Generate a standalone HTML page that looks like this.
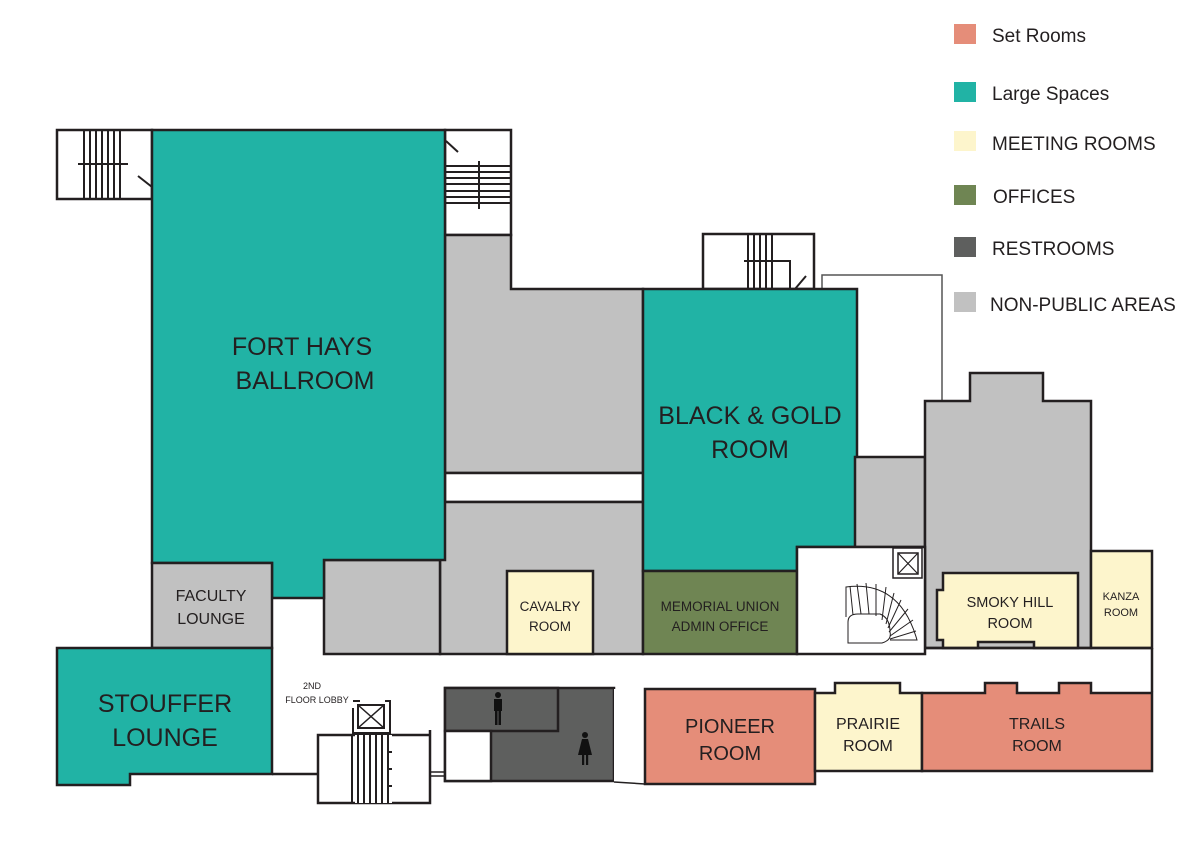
<!DOCTYPE html>
<html><head><meta charset="utf-8"><style>
html,body{margin:0;padding:0;background:#fff;}
svg{display:block;}
text{font-family:"Liberation Sans",sans-serif;fill:#231f20;}
</style></head><body>
<svg width="1192" height="851" viewBox="0 0 1192 851" xmlns="http://www.w3.org/2000/svg">
<g stroke="#231f20" stroke-width="2.5" stroke-linejoin="miter">
<!-- left stair -->
<rect x="57" y="130" width="95" height="69" fill="#fff"/>
<g stroke-width="2">
<line x1="84" y1="130" x2="84" y2="199"/><line x1="90" y1="130" x2="90" y2="199"/><line x1="96" y1="130" x2="96" y2="199"/><line x1="102" y1="130" x2="102" y2="199"/><line x1="108" y1="130" x2="108" y2="199"/><line x1="114" y1="130" x2="114" y2="199"/><line x1="120" y1="130" x2="120" y2="199"/>
<line x1="78" y1="164" x2="128" y2="164"/>
<line x1="138" y1="176" x2="152" y2="187"/>
</g>
<!-- right stair near ballroom -->
<rect x="445" y="130" width="66" height="105" fill="#fff"/>
<g stroke-width="2">
<line x1="445" y1="166" x2="512" y2="166"/><line x1="445" y1="172" x2="512" y2="172"/><line x1="445" y1="178" x2="512" y2="178"/><line x1="445" y1="184" x2="512" y2="184"/><line x1="445" y1="191" x2="512" y2="191"/><line x1="445" y1="197" x2="512" y2="197"/><line x1="445" y1="203" x2="512" y2="203"/>
<line x1="479" y1="161" x2="479" y2="209"/>
<line x1="446" y1="141" x2="458" y2="152"/>
</g>
<!-- gray blocks -->
<polygon points="445,235 511,235 511,289 643,289 643,473 445,473" fill="#c1c1c1"/>
<rect x="445" y="473" width="198" height="29" fill="#fff"/>
<rect x="440" y="502" width="203" height="152" fill="#c1c1c1"/>
<rect x="324" y="560" width="116" height="94" fill="#c1c1c1"/>
<!-- ballroom -->
<polygon points="152,130 445,130 445,560 324,560 324,598 272,598 272,563 152,563" fill="#21b3a5"/>
<rect x="152" y="563" width="120" height="85" fill="#c1c1c1"/>
<!-- cavalry -->
<rect x="507" y="571" width="86" height="83" fill="#fdf5cc"/>
<!-- stair above B&G -->
<rect x="703" y="234" width="111" height="55" fill="#fff"/>
<g stroke-width="2">
<line x1="748" y1="234" x2="748" y2="289"/><line x1="754" y1="234" x2="754" y2="289"/><line x1="760" y1="234" x2="760" y2="289"/><line x1="766" y1="234" x2="766" y2="289"/><line x1="772" y1="234" x2="772" y2="289"/>
<polyline points="744,261 790,261 790,289" fill="none"/>
<line x1="795" y1="289" x2="806" y2="276"/>
</g>
<polyline points="822,289 822,275 942,275 942,401" fill="none" stroke-width="1.5" stroke="#555"/>
<!-- B&G -->
<polygon points="643,289 857,289 857,547 797,547 797,571 643,571" fill="#21b3a5"/>
<rect x="643" y="571" width="154" height="83" fill="#6f8553"/>
<rect x="855" y="457" width="70" height="90" fill="#c1c1c1"/>
<polygon points="925,401 970,401 970,373 1043,373 1043,401 1091,401 1091,648 925,648" fill="#c1c1c1"/>
<!-- elevator/spiral area -->
<rect x="797" y="547" width="128" height="107" fill="#fff"/>
<rect x="893" y="548" width="29" height="30" fill="#fff" stroke-width="1.5"/>
<rect x="898" y="553" width="20" height="21" fill="#fff" stroke-width="1.5"/>
<path d="M898 553 L918 574 M918 553 L898 574" stroke-width="1.2"/>
<g stroke-width="1" fill="none">
<path d="M848 643 L848 622 Q848 614 858 614 L880 614 Q890 618 890 632 Q892 640 882 643 Z" fill="#fff"/>
<path d="M846 617 L846 587 Q900 580 917 640 L890 640"/>
<path d="M853 615 L850 586 M861 614 L857 584 M869 614 L866 583 M876 616 L876 584 M882 620 L886 587 M886 624 L894 593 M888 628 L901 600 M889 632 L908 609 M890 636 L913 620 M890 639 L916 631"/>
</g>
<!-- smoky hill -->
<polygon points="943,573 1078,573 1078,648 1034,648 1034,642 978,642 978,648 943,648 943,640 937,640 937,590 943,590" fill="#fdf5cc"/>
<rect x="1091" y="551" width="61" height="97" fill="#fdf5cc"/>
<line x1="1152" y1="648" x2="1152" y2="692"/>
<line x1="925" y1="648" x2="1152" y2="648"/>
<!-- stouffer -->
<polygon points="57,648 272,648 272,774 130,774 130,785 57,785" fill="#21b3a5"/>
<line x1="272" y1="774" x2="318" y2="774"/>
<!-- bottom stair -->
<polyline points="318,774 318,735 430,735" fill="none"/>
<polyline points="430,730 430,803 318,803 318,774" fill="none"/>
<rect x="355" y="735" width="37" height="68" fill="#fff" stroke-width="0"/>
<g stroke-width="2">
<line x1="352" y1="735" x2="352" y2="803"/><line x1="358" y1="735" x2="358" y2="803"/><line x1="364" y1="735" x2="364" y2="803"/><line x1="370" y1="735" x2="370" y2="803"/><line x1="376" y1="735" x2="376" y2="803"/><line x1="382" y1="735" x2="382" y2="803"/><line x1="388" y1="735" x2="388" y2="803"/>
<line x1="388" y1="752" x2="392" y2="752"/><line x1="388" y1="769" x2="392" y2="769"/><line x1="388" y1="786" x2="392" y2="786"/>
</g>
<polyline points="353,708 353,733 390,733 390,701 385,701" fill="none" stroke-width="2"/>
<line x1="353" y1="701" x2="360" y2="701" stroke-width="2"/>
<rect x="358" y="705" width="26" height="23" fill="#fff" stroke-width="2"/>
<path d="M358 705 L384 728 M384 705 L358 728" stroke-width="1.5"/>
<line x1="430" y1="772" x2="445" y2="772" stroke-width="1.5"/>
<line x1="430" y1="776" x2="445" y2="776" stroke-width="1.5"/>
<!-- restrooms -->
<rect x="445" y="688" width="169" height="93" fill="#5e5f5e"/>
<rect x="445" y="688" width="113" height="43" fill="#5e5f5e"/>
<rect x="445" y="731" width="46" height="50" fill="#fff"/>
<rect x="614" y="689" width="31" height="93" fill="#fff" stroke-width="0"/>
<line x1="614" y1="782" x2="645" y2="784" stroke-width="1.5"/>
<!-- pioneer etc -->
<rect x="645" y="689" width="170" height="95" fill="#e58d79"/>
<polygon points="815,693 835,693 835,683 900,683 900,693 922,693 922,771 815,771" fill="#fdf5cc"/>
<polygon points="922,693 985,693 985,683 1017,683 1017,693 1059,693 1059,683 1091,683 1091,693 1152,693 1152,771 922,771" fill="#e58d79"/>
</g>
<!-- people icons -->
<g fill="#111">
<circle cx="498" cy="695" r="3"/><rect x="494" y="699" width="8" height="12"/><rect x="495" y="710" width="2.5" height="15"/><rect x="498.5" y="710" width="2.5" height="15"/>
<circle cx="585" cy="735" r="3"/><polygon points="582,739 588,739 592,755 578,755"/><rect x="582" y="754" width="2.2" height="11"/><rect x="586" y="754" width="2.2" height="11"/>
</g>
<!-- labels -->
<g text-anchor="middle">
<text x="302" y="355" font-size="25">FORT HAYS</text>
<text x="305" y="389" font-size="25">BALLROOM</text>
<text x="750" y="424" font-size="25">BLACK &amp; GOLD</text>
<text x="750" y="458" font-size="25">ROOM</text>
<text x="211" y="601" font-size="16">FACULTY</text>
<text x="211" y="624" font-size="16">LOUNGE</text>
<text x="550" y="611" font-size="13.5">CAVALRY</text>
<text x="550" y="631" font-size="13.5">ROOM</text>
<text x="720" y="611" font-size="13.5">MEMORIAL UNION</text>
<text x="720" y="631" font-size="13.5">ADMIN OFFICE</text>
<text x="1010" y="607" font-size="14.5">SMOKY HILL</text>
<text x="1010" y="628" font-size="14.5">ROOM</text>
<text x="1121" y="600" font-size="11">KANZA</text>
<text x="1121" y="616" font-size="11">ROOM</text>
<text x="165" y="712" font-size="25">STOUFFER</text>
<text x="165" y="746" font-size="25">LOUNGE</text>
<text x="312" y="689" font-size="9">2ND</text>
<text x="317" y="703" font-size="9">FLOOR LOBBY</text>
<text x="730" y="733" font-size="20">PIONEER</text>
<text x="730" y="760" font-size="20">ROOM</text>
<text x="868" y="729" font-size="16">PRAIRIE</text>
<text x="868" y="751" font-size="16">ROOM</text>
<text x="1037" y="729" font-size="16">TRAILS</text>
<text x="1037" y="751" font-size="16">ROOM</text>
</g>
<!-- legend -->
<rect x="954" y="24" width="22" height="20" fill="#e58d79"/>
<rect x="954" y="82" width="22" height="20" fill="#21b3a5"/>
<rect x="954" y="131" width="22" height="20" fill="#fdf5cc"/>
<rect x="954" y="185" width="22" height="20" fill="#6f8553"/>
<rect x="954" y="237" width="22" height="20" fill="#5e5f5e"/>
<rect x="954" y="292" width="22" height="20" fill="#c1c1c1"/>
<g font-size="19">
<text x="992" y="42">Set Rooms</text>
<text x="992" y="100">Large Spaces</text>
<text x="992" y="150">MEETING ROOMS</text>
<text x="993" y="203">OFFICES</text>
<text x="992" y="255">RESTROOMS</text>
<text x="990" y="311">NON-PUBLIC AREAS</text>
</g>
</svg>
</body></html>
